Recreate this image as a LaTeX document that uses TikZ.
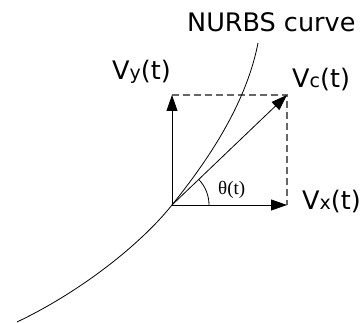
\documentclass[tikz,border=0pt]{standalone}
\usepackage{fontspec}
\setmainfont{DejaVu Sans}
\newfontfamily\serifface{Liberation Serif}
\usetikzlibrary{arrows.meta,calc}
\newcommand\lblsub[1]{{\fontsize{19}{19}\selectfont #1}}
\tikzset{
  vec/.style={line width=0.8pt, -{Triangle[length=16pt,width=11pt]}},
  guide/.style={line width=1.1pt, draw=black!60, dash pattern=on 7pt off 4pt},
  curveline/.style={line width=0.8pt},
  lbl/.style={inner sep=0pt, anchor=base west, font=\fontsize{25.5}{25.5}\selectfont},
}
\begin{document}
\begin{tikzpicture}[x=1pt,y=-1pt]
\useasboundingbox (0,0) rectangle (362,323);
\coordinate (O) at (172,205);
\coordinate (X) at (287,205);
\coordinate (Y) at (172,95);
\coordinate (C) at (287,95);
\coordinate (S) at (17,322);
\coordinate (E) at (258,43);
% dashed guides
\draw[guide] (Y) -- (C) -- (X);
% NURBS curve
\draw[curveline] (S) .. controls (80,292) and (140,245) .. (O)
                     .. controls (200,170) and (245,110) .. (E);
% vectors
\draw[vec] (O) -- (X);
\draw[vec] (O) -- (Y);
\draw[vec] (O) -- (C);
% angle arc
\draw[line width=0.8pt] ($(O)+(37,0)$) arc[start angle=0, end angle=-44, radius=37];
% labels
\node[lbl] (nurbs) at (187,32) {NURBS curve};
\node[lbl] (vy) at (112,80) {V\lblsub{y}(t)};
\node[lbl] (vc) at (292,88) {V\lblsub{c}(t)};
\node[lbl] (vx) at (302,210) {V\lblsub{x}(t)};
\node[inner sep=0pt, anchor=base west, font=\serifface\fontsize{19}{19}\selectfont] (theta) at (218,195) {θ(t)};
\end{tikzpicture}
\end{document}
